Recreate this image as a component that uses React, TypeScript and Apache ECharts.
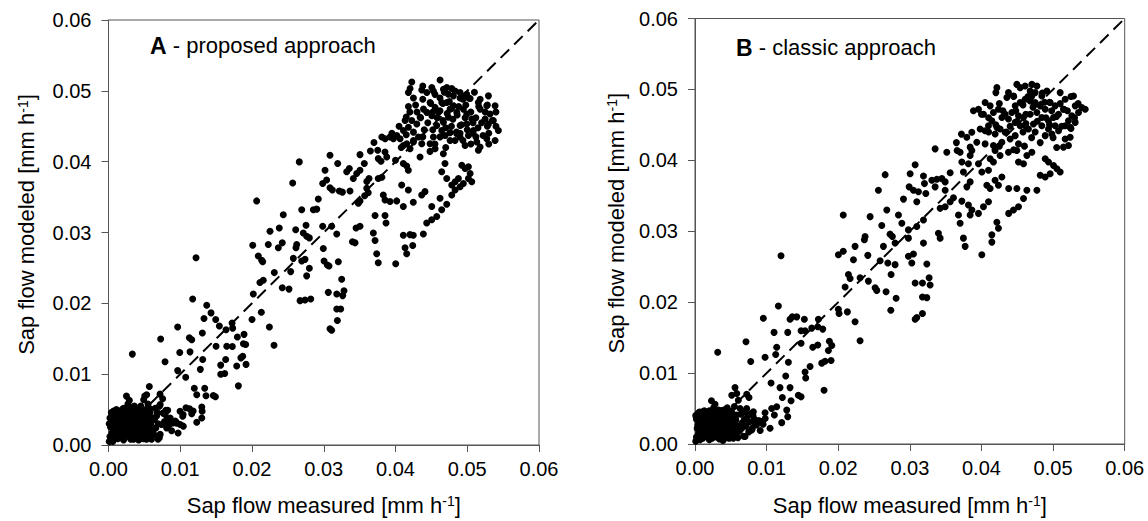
import React, { useEffect, useRef } from "react";
import * as echarts from "echarts";

const FONT = "'Liberation Sans', Arial, Helvetica, sans-serif";

// ---- Panel A (proposed approach) ----
const aBlob: number[][] = [
  [0.0002,0.0012],[0.0003,0.0025],[0.0002,0.0038],[0.0004,0.0046],[0.0008,0.0009],[0.0009,0.0019],[0.0010,0.0031],[0.0008,0.0042],[0.0011,0.0050],[0.0015,0.0014],[0.0016,0.0024],[0.0014,0.0036],[0.0017,0.0045],[0.0021,0.0007],[0.0022,0.0018],[0.0023,0.0029],[0.0021,0.0040],[0.0024,0.0049],[0.0028,0.0012],[0.0029,0.0023],[0.0030,0.0035],[0.0028,0.0045],[0.0025,0.0069],[0.0027,0.0058],[0.0033,0.0053],[0.0035,0.0008],[0.0036,0.0017],[0.0037,0.0028],[0.0035,0.0040],[0.0038,0.0048],[0.0042,0.0013],[0.0043,0.0023],[0.0044,0.0034],[0.0042,0.0044],[0.0045,0.0055],[0.0049,0.0009],[0.0050,0.0019],[0.0051,0.0029],[0.0049,0.0040],[0.0052,0.0050],[0.0056,0.0014],[0.0057,0.0024],[0.0055,0.0035],[0.0058,0.0046],[0.0006,0.0005],[0.0012,0.0027],[0.0019,0.0033],[0.0032,0.0030],[0.0046,0.0026],[0.0040,0.0009],
  [0.0005,0.0017],[0.0006,0.0033],[0.0005,0.0040],[0.0013,0.0009],[0.0012,0.0043],[0.0018,0.0019],[0.0019,0.0050],[0.0025,0.0024],[0.0026,0.0036],[0.0031,0.0017],[0.0033,0.0043],[0.0039,0.0022],[0.0040,0.0035],[0.0046,0.0016],[0.0047,0.0047],[0.0053,0.0023],[0.0054,0.0041],[0.0059,0.0019],[0.0001,0.0030],[0.0001,0.0005],[0.0030,0.0050],[0.0036,0.0055],[0.0055,0.0058],[0.0049,0.0064],[0.0029,0.0063],[0.0008,0.0024],[0.0015,0.0040],[0.0027,0.0017],[0.0042,0.0039],[0.0051,0.0035],
  [0.0004,0.0008],[0.0007,0.0013],[0.0007,0.0021],[0.0003,0.0030],[0.0011,0.0016],[0.0010,0.0036],[0.0013,0.0031],[0.0016,0.0019],[0.0017,0.0029],[0.0019,0.0011],[0.0020,0.0024],[0.0020,0.0037],[0.0022,0.0044],[0.0024,0.0013],[0.0026,0.0030],[0.0027,0.0041],[0.0031,0.0008],[0.0031,0.0039],[0.0033,0.0024],[0.0034,0.0012],[0.0034,0.0034],[0.0038,0.0013],[0.0038,0.0031],[0.0039,0.0042],[0.0041,0.0018],[0.0041,0.0028],[0.0044,0.0010],[0.0045,0.0020],[0.0045,0.0043],[0.0047,0.0032],[0.0048,0.0023],[0.0050,0.0045],[0.0053,0.0012],[0.0053,0.0030],[0.0056,0.0040],[0.0058,0.0010],[0.0040,0.0051],[0.0007,0.0048],[0.0014,0.0047],[0.0021,0.0052]
];
const aTail: number[][] = [
  [0.0062,0.0020],[0.0065,0.0052],[0.0067,0.0041],[0.0069,0.0030],[0.0069,0.0008],[0.0072,0.0057],[0.0074,0.0029],[0.0076,0.0045],[0.0079,0.0043],[0.0081,0.0024],[0.0083,0.0036],[0.0086,0.0038],[0.0088,0.0020],[0.0090,0.0031],[0.0093,0.0034],[0.0097,0.0017],[0.0100,0.0029],[0.0060,0.0008],[0.0063,0.0015],[0.0053,0.0008],[0.0042,0.0007],[0.0059,0.0029],[0.0064,0.0036],[0.0095,0.0031],[0.0104,0.0043],
  [0.0061,0.0038],[0.0066,0.0024],[0.0078,0.0033],[0.0085,0.0029],[0.0072,0.0015],[0.0080,0.0049],[0.0068,0.0046],[0.0057,0.0052]
];
const aLow: number[][] = [
  [0.00332,0.01283],[0.00727,0.01497],[0.00964,0.01665],[0.01173,0.0206],[0.01369,0.01973],[0.01331,0.01786],[0.01429,0.01865],[0.01494,0.01772],[0.01545,0.01679],[0.01638,0.01627],[0.01722,0.01721],[0.0173,0.0165],[0.02,0.01772],[0.0213,0.01875],[0.02242,0.01665],[0.02307,0.01408],[0.0267,0.02038],[0.02739,0.02047],[0.02819,0.02061],[0.01127,0.01515],[0.0116,0.01487],[0.01308,0.01581],[0.00993,0.01305],[0.01136,0.01315],[0.01313,0.01208],[0.01499,0.01394],[0.01648,0.01394],[0.01726,0.0139],[0.01889,0.01562],[0.01912,0.01418],[0.0188,0.0143],[0.01796,0.01525],[0.01871,0.01254],[0.01845,0.0123],[0.01633,0.01208],[0.01564,0.01128],[0.01564,0.00998],[0.0162,0.0101],[0.01787,0.01115],[0.01917,0.01138],[0.0181,0.00835],[0.00788,0.01175],[0.00964,0.0105],[0.01076,0.00956],[0.0128,0.01068],[0.00569,0.00826],[0.00532,0.00709],[0.00505,0.0069],[0.00718,0.00718],[0.00755,0.00653],[0.00709,0.00546],[0.00825,0.0049],[0.01196,0.00802],[0.01341,0.00802],[0.0123,0.00709],[0.01359,0.00695],[0.01461,0.007],[0.0149,0.0068],[0.0108,0.00525],[0.0113,0.0051],[0.0118,0.0048],[0.0116,0.0044],[0.013,0.00536],[0.01305,0.00476],[0.013,0.00382],[0.0123,0.00322],[0.00997,0.00476],[0.01034,0.00406],[0.01043,0.00266],[0.0095,0.00312],[0.00709,0.00102],[0.0043,0.0008],[0.0122,0.02644]
];
const aMid: number[][] = [
  [0.03087,0.0409],[0.02659,0.03997],[0.02567,0.03698],[0.02065,0.03446],[0.03194,0.03973],[0.03505,0.04099],[0.03752,0.0416],[0.03854,0.04137],[0.03878,0.04067],[0.0376,0.04043],[0.03798,0.04006],[0.04,0.0402],[0.04109,0.03973],[0.04156,0.0394],[0.04179,0.03879],[0.04342,0.04067],[0.04481,0.04145],[0.04667,0.04113],[0.04644,0.03857],[0.04714,0.03763],[0.0469,0.03973],[0.03018,0.03879],[0.02985,0.03693],[0.0304,0.0374],[0.03087,0.03633],[0.0312,0.036],[0.03217,0.03586],[0.0326,0.0357],[0.0332,0.03857],[0.03356,0.03903],[0.03412,0.03763],[0.03459,0.03833],[0.03505,0.03879],[0.03565,0.03973],[0.03631,0.03763],[0.036,0.0372],[0.03366,0.03586],[0.03599,0.03623],[0.0362,0.0356],[0.0357,0.0352],[0.03505,0.03446],[0.03482,0.03414],[0.0376,0.03763],[0.0381,0.0378],[0.0383,0.0353],[0.03854,0.0346],[0.03924,0.03437],[0.04017,0.03446],[0.04109,0.03367],[0.04086,0.0367],[0.04179,0.036],[0.04248,0.03428],[0.04365,0.0353],[0.04411,0.03577],[0.04505,0.03367],[0.04621,0.03483],[0.04644,0.0332],[0.04714,0.03399],[0.04575,0.03227],[0.04505,0.0318],[0.04435,0.03134],[0.04388,0.0298],[0.04248,0.02962],[0.04202,0.0297],[0.04109,0.02962],[0.0424,0.02816],[0.04133,0.02784],[0.04156,0.027],[0.04003,0.0256],[0.03715,0.0324],[0.03854,0.0324],[0.03868,0.03134],[0.03691,0.02994],[0.03715,0.02886],[0.03738,0.027],[0.0376,0.02574],
  [0.02924,0.03474],[0.02855,0.0332],[0.02902,0.0333],[0.02693,0.0332],[0.02436,0.0325],[0.0238,0.03064],[0.02251,0.03018],[0.02609,0.0304],[0.02753,0.03102],[0.02715,0.02994],[0.02762,0.02948],[0.02799,0.02924],[0.02985,0.03088],[0.0311,0.03088],[0.03181,0.0298],[0.02994,0.02774],[0.02623,0.0283],[0.02613,0.02784],[0.02422,0.02854],[0.02367,0.02784],[0.02227,0.0283],[0.0201,0.0282],[0.02088,0.02668],[0.02135,0.02607],[0.02149,0.02588],[0.02576,0.02635],[0.02693,0.02598],[0.02739,0.02621],[0.02799,0.02495],[0.02762,0.02388],[0.03004,0.02598],[0.0305,0.02542],[0.03073,0.02528],[0.03203,0.02588],[0.02539,0.02448],[0.02311,0.02434],[0.02157,0.02327],[0.02111,0.02294],[0.02018,0.02131],[0.02422,0.0222],[0.02516,0.02201],[0.03064,0.02155],[0.03181,0.02131],[0.03264,0.02109],[0.03282,0.02178],[0.0325,0.02341],[0.03181,0.01921],[0.03236,0.01921],[0.0319,0.01758],[0.03087,0.01641],[0.0311,0.01619],[0.0345,0.03064],[0.03505,0.03088],[0.03436,0.02854],[0.034,0.0287],[0.037,0.0427],[0.0365,0.0415]
];
const aTop: number[][] = [
  [0.04227,0.05124],[0.04203,0.05032],[0.0418,0.04976],[0.0438,0.05068],[0.04366,0.05012],[0.04436,0.04976],[0.04506,0.05046],[0.04528,0.04998],[0.04621,0.05152],[0.04668,0.05022],[0.04715,0.05046],[0.04784,0.05032],[0.04831,0.04998],[0.04737,0.04952],[0.04807,0.04929],[0.049,0.04976],[0.04924,0.04906],[0.04993,0.04952],[0.0504,0.04892],[0.05155,0.04836],[0.05179,0.04742],[0.05272,0.04789],[0.05295,0.04929],[0.05388,0.04789],[0.05318,0.04673],[0.05249,0.04603],[0.05295,0.04533],[0.05364,0.0458],[0.05434,0.0444],[0.05388,0.043],[0.05272,0.04323],[0.05179,0.04207],[0.05155,0.0416],[0.05133,0.04277],[0.05016,0.0437],[0.0497,0.04229],[0.049,0.04347],[0.04854,0.04393],[0.05086,0.0444],[0.04993,0.04533],[0.049,0.0451],[0.05063,0.04603],
  [0.04482,0.04836],[0.04552,0.04766],[0.04598,0.04696],[0.04506,0.04649],[0.04436,0.04696],[0.0439,0.04742],[0.04343,0.04626],[0.04297,0.04533],[0.04227,0.0458],[0.0418,0.04486],[0.04134,0.0458],[0.0411,0.0444],[0.04064,0.04323],[0.04018,0.0437],[0.03971,0.04323],[0.03924,0.04347],[0.03855,0.04323],[0.03809,0.04347],[0.0425,0.04417],[0.0432,0.04347],[0.04366,0.04253],[0.0425,0.04277],[0.04203,0.04183],[0.04157,0.04253],[0.0411,0.04229],[0.04575,0.0451],[0.04668,0.04556],[0.04737,0.04626],[0.04761,0.04742],[0.04645,0.04836],[0.04715,0.04836],[0.04807,0.04789],[0.04854,0.04696],[0.04946,0.04742],[0.04993,0.04673],[0.04645,0.0444],[0.04691,0.0437],[0.04761,0.043],[0.04528,0.04347],[0.04482,0.04253],[0.04552,0.04183],
  [0.0462,0.049],[0.0475,0.0485],[0.0488,0.0478],[0.0498,0.048],[0.0505,0.047],[0.0512,0.0462],[0.048,0.046],[0.0492,0.0452],[0.05,0.0445],[0.047,0.0448],[0.0458,0.0462],[0.0445,0.0455],[0.044,0.0445],[0.043,0.047],[0.042,0.047],[0.0415,0.0463],[0.0525,0.047],[0.051,0.0498],[0.0455,0.0425],[0.047,0.042],[0.0483,0.043],[0.0505,0.0425],[0.052,0.0455],[0.053,0.044],
  [0.0455,0.0495],[0.0468,0.0498],[0.0478,0.0475],[0.0494,0.0488],[0.0516,0.0478],[0.0508,0.0455],[0.0485,0.0442],[0.0462,0.0472],[0.0449,0.0482],[0.0425,0.0490],[0.0435,0.0462],[0.0462,0.0435],[0.0476,0.0441],[0.0512,0.0435],[0.0497,0.0462],[0.0535,0.0458],
  [0.0428,0.0480],[0.0438,0.0488],[0.0452,0.0470],[0.0466,0.0482],[0.0472,0.0468],[0.0486,0.0466],[0.0490,0.0490],[0.0502,0.0490],[0.0518,0.0488],[0.0528,0.0480],[0.0515,0.0448],[0.0528,0.0450],[0.0540,0.0450],[0.0522,0.0437],[0.0508,0.0440],[0.0490,0.0440],[0.0478,0.0450],[0.0466,0.0458],[0.0452,0.0445],[0.0438,0.0435],[0.0425,0.0430],[0.0415,0.0438],[0.0405,0.0450],[0.0395,0.0440],[0.0418,0.0478],[0.0408,0.0420],[0.0494,0.0430],[0.0530,0.0425],[0.0540,0.0470],
  [0.04784,0.0367],[0.04831,0.03717],[0.04877,0.03763],[0.04924,0.0395],[0.0497,0.03903],[0.05016,0.03927],[0.0504,0.03833],[0.05016,0.03763],[0.05063,0.03717],[0.04946,0.03693],[0.049,0.03647],[0.04831,0.036],[0.04784,0.0353]
];

// ---- Panel B (classic approach) ----
const bBlob: number[][] = [
  [0.0002,0.0010],[0.0003,0.0022],[0.0002,0.0035],[0.0004,0.0043],[0.0007,0.0006],[0.0009,0.0016],[0.0008,0.0028],[0.0010,0.0039],[0.0013,0.0047],[0.0014,0.0011],[0.0015,0.0022],[0.0016,0.0033],[0.0018,0.0042],[0.0020,0.0006],[0.0021,0.0017],[0.0022,0.0027],[0.0023,0.0038],[0.0023,0.0061],[0.0026,0.0051],[0.0027,0.0012],[0.0028,0.0022],[0.0029,0.0033],[0.0030,0.0044],[0.0034,0.0007],[0.0035,0.0017],[0.0036,0.0028],[0.0034,0.0039],[0.0037,0.0047],[0.0041,0.0012],[0.0042,0.0022],[0.0043,0.0033],[0.0041,0.0043],[0.0048,0.0008],[0.0049,0.0018],[0.0050,0.0028],[0.0048,0.0038],[0.0051,0.0046],[0.0055,0.0013],[0.0056,0.0023],[0.0057,0.0034],[0.0012,0.0032],[0.0018,0.0026],[0.0031,0.0027],[0.0044,0.0027],[0.0039,0.0005],[0.0006,0.0045],
  [0.0005,0.0015],[0.0006,0.0030],[0.0001,0.0040],[0.0011,0.0008],[0.0012,0.0020],[0.0013,0.0040],[0.0017,0.0015],[0.0019,0.0036],[0.0020,0.0047],[0.0025,0.0018],[0.0025,0.0030],[0.0026,0.0043],[0.0032,0.0013],[0.0032,0.0022],[0.0033,0.0036],[0.0033,0.0048],[0.0038,0.0020],[0.0039,0.0033],[0.0040,0.0048],[0.0045,0.0014],[0.0046,0.0040],[0.0052,0.0022],[0.0053,0.0035],[0.0001,0.0004],[0.0028,0.0056],[0.0045,0.0051],
  [0.0004,0.0007],[0.0006,0.0020],[0.0004,0.0027],[0.0007,0.0038],[0.0010,0.0012],[0.0011,0.0025],[0.0014,0.0017],[0.0014,0.0028],[0.0016,0.0044],[0.0018,0.0010],[0.0019,0.0021],[0.0020,0.0031],[0.0021,0.0041],[0.0024,0.0008],[0.0024,0.0034],[0.0027,0.0026],[0.0028,0.0039],[0.0030,0.0010],[0.0031,0.0019],[0.0031,0.0041],[0.0034,0.0031],[0.0037,0.0010],[0.0037,0.0024],[0.0039,0.0041],[0.0040,0.0016],[0.0042,0.0030],[0.0044,0.0020],[0.0044,0.0037],[0.0046,0.0009],[0.0047,0.0031],[0.0049,0.0042],[0.0051,0.0014],[0.0053,0.0029],[0.0055,0.0041],[0.0058,0.0017],[0.0009,0.0045],[0.0016,0.0037]
];
const bTail: number[][] = [
  [0.0062,0.0018],[0.0064,0.0042],[0.0066,0.0030],[0.0068,0.0011],[0.0071,0.0025],[0.0073,0.0038],[0.0076,0.0031],[0.0080,0.0022],[0.0083,0.0035],[0.0086,0.0027],[0.0089,0.0033],[0.0091,0.0019],[0.0095,0.0028],[0.0060,0.0009],[0.0059,0.0026],[0.0063,0.0050],[0.0070,0.0046],[0.0081,0.0040],[0.0098,0.0036],
  [0.0058,0.0041],[0.0065,0.0022],[0.0069,0.0035],[0.0075,0.0017],[0.0078,0.0043],[0.0085,0.0031],[0.0055,0.0053]
];
const bLow: number[][] = [
  [0.00317,0.01294],[0.00712,0.01443],[0.00954,0.01774],[0.01164,0.01947],[0.00778,0.01164],[0.00978,0.01224],[0.01104,0.01574],[0.01141,0.01364],[0.01127,0.01262],[0.01295,0.01574],[0.01304,0.01154],[0.01327,0.0176],[0.01359,0.01793],[0.01421,0.01793],[0.01527,0.0176],[0.01481,0.01597],[0.01537,0.01597],[0.0163,0.01634],[0.01714,0.01653],[0.01784,0.0162],[0.01723,0.0176],[0.01481,0.0142],[0.01644,0.01364],[0.01714,0.01397],[0.01876,0.01448],[0.0191,0.01388],[0.01862,0.01318],[0.02002,0.019],[0.02012,0.0184],[0.02128,0.01863],[0.02235,0.01723],[0.02305,0.01457],[0.02734,0.01886],[0.02808,0.02054],[0.0177,0.0114],[0.01816,0.01168],[0.019,0.01177],[0.01607,0.01094],[0.01537,0.01014],[0.01546,0.0093],[0.01267,0.00958],[0.01062,0.0086],[0.01187,0.00795],[0.01327,0.00795],[0.0122,0.00655],[0.01341,0.00609],[0.01443,0.00688],[0.01481,0.00665],[0.01802,0.00758],[0.00559,0.00795],[0.00513,0.00688],[0.00583,0.00711],[0.00722,0.00702],[0.00754,0.00655],[0.00605,0.00618],[0.00722,0.00501],[0.00815,0.00455],[0.00978,0.00441],[0.01071,0.00501],[0.01141,0.00525],[0.01108,0.00408],[0.01281,0.00478],[0.01295,0.00385],[0.01211,0.00301],[0.01048,0.00221],[0.00932,0.00315],[0.00838,0.00291],[0.00792,0.00199],[0.00699,0.00105],[0.00535,0.00081],[0.00409,0.00075],[0.01201,0.02655]
];
const bMid: number[][] = [
  [0.0207,0.03229],[0.02655,0.03798],[0.02561,0.03579],[0.03074,0.03938],[0.03004,0.03812],[0.0319,0.0378],[0.03204,0.03672],[0.0299,0.03626],[0.0305,0.03579],[0.0312,0.03556],[0.03223,0.03532],[0.03307,0.03719],[0.03377,0.03733],[0.03447,0.03742],[0.03493,0.03696],[0.03353,0.03626],[0.03493,0.03579],[0.03353,0.04162],[0.03516,0.04115],[0.03563,0.03826],[0.0366,0.04139],[0.03702,0.04115],[0.03726,0.03976],[0.03748,0.03836],[0.03818,0.03952],[0.03842,0.04068],[0.03866,0.04139],[0.03958,0.03952],[0.04005,0.03836],[0.04098,0.0386],[0.04121,0.04022],[0.04167,0.03976],[0.0419,0.04139],[0.0426,0.04068],[0.04377,0.04115],[0.04494,0.04139],[0.04517,0.03976],[0.04587,0.03952],[0.04634,0.04068],[0.04704,0.04115],[0.03842,0.03696],[0.03796,0.03626],[0.03609,0.03472],[0.03563,0.03416],[0.03493,0.03346],[0.03423,0.03323],[0.03726,0.03425],[0.03818,0.03369],[0.03866,0.03299],[0.03842,0.03229],[0.03958,0.03252],[0.04028,0.03346],[0.04098,0.03416],[0.04121,0.03602],[0.0419,0.03719],[0.04237,0.03649],[0.04075,0.03649],[0.03679,0.03229],[0.03702,0.03113],[0.03748,0.02903],[0.03772,0.02787],[0.04005,0.02669],[0.04145,0.02949],[0.04145,0.02847],[0.04215,0.03127],[0.04237,0.03043],[0.0438,0.03252],[0.04447,0.03299],[0.04517,0.03346],[0.04587,0.03463],[0.04634,0.03579],[0.04494,0.03602],[0.0438,0.03602],[0.04285,0.03766],[0.03399,0.02973],[0.03423,0.02903],
  [0.02445,0.03206],[0.02841,0.03229],[0.02678,0.03299],[0.02911,0.03453],[0.03097,0.03416],[0.02888,0.03113],[0.02608,0.0308],[0.0319,0.03159],[0.03097,0.03066],[0.0298,0.03019],[0.02724,0.02959],[0.02756,0.02927],[0.02794,0.02833],[0.02631,0.02787],[0.0298,0.02903],[0.0319,0.02833],[0.02375,0.02927],[0.02365,0.02879],[0.02235,0.02787],[0.02002,0.02669],[0.0207,0.02717],[0.02212,0.02599],[0.02413,0.0266],[0.02585,0.02585],[0.02692,0.02553],[0.02794,0.02529],[0.0298,0.02647],[0.0305,0.02679],[0.03027,0.02553],[0.03237,0.02539],[0.02738,0.02389],[0.02142,0.02389],[0.02166,0.02334],[0.02305,0.02343],[0.02421,0.02297],[0.02515,0.02203],[0.02538,0.02166],[0.02668,0.02147],[0.02096,0.02213],[0.03074,0.0227],[0.03176,0.0227],[0.03269,0.02343],[0.03283,0.02241],[0.03176,0.02073],[0.03237,0.02064],[0.03176,0.01839],[0.03097,0.01784],[0.03074,0.0176],[0.0365,0.0425],[0.0372,0.0437]
];
const bTop: number[][] = [
  [0.04215,0.05025],[0.04201,0.04955],[0.04494,0.05071],[0.0454,0.05025],[0.04377,0.04955],[0.04355,0.04885],[0.04447,0.04908],[0.0461,0.05048],[0.04704,0.05071],[0.04774,0.05048],[0.0468,0.04978],[0.0475,0.04955],[0.04843,0.04908],[0.04913,0.04978],[0.05099,0.04955],[0.05169,0.04861],[0.05285,0.04908],[0.05309,0.04768],[0.05402,0.04745],[0.05448,0.04721],[0.05355,0.04675],[0.05262,0.04628],[0.05215,0.04558],[0.05169,0.04488],[0.05239,0.04465],[0.05309,0.04535],
  [0.05145,0.04721],[0.05076,0.04651],[0.05006,0.04605],[0.05029,0.04768],[0.04959,0.04815],[0.0489,0.04721],[0.0482,0.04768],[0.0475,0.04815],[0.0468,0.04838],[0.0461,0.04861],[0.0454,0.04815],[0.04471,0.04768],[0.04424,0.04675],[0.04517,0.04628],[0.04587,0.04605],[0.0468,0.04651],[0.04774,0.04675],[0.04843,0.04605],[0.04936,0.04558],[0.05029,0.04488],[0.05076,0.04418],[0.04983,0.04372],[0.04936,0.04442],[0.0489,0.04348],[0.04843,0.04488],[0.04726,0.04512],[0.04656,0.04442],[0.0461,0.04488],[0.0454,0.04488],[0.04471,0.04535],[0.04377,0.04582],[0.04331,0.04651],[0.04285,0.04605],[0.04237,0.04721],[0.04167,0.04675],[0.04121,0.04768],[0.04051,0.04815],[0.04028,0.04651],[0.03958,0.04721],[0.03888,0.04698],[0.04098,0.04488],[0.04145,0.04558],[0.04215,0.04465],[0.04261,0.04442],[0.04191,0.04372],[0.04051,0.04418],[0.03982,0.04442],[0.03865,0.04395],[0.03795,0.04325],[0.04331,0.04395],[0.04401,0.04302],[0.04471,0.04348],[0.04517,0.04232],[0.04285,0.04256],[0.04167,0.04208],[0.04051,0.04232],[0.03935,0.04256],[0.03842,0.04186],[0.05169,0.04302],[0.05239,0.04325],[0.05215,0.04208],[0.05145,0.04186],
  [0.0465,0.0490],[0.0472,0.0475],[0.0488,0.0482],[0.0498,0.0470],[0.0510,0.0480],[0.0520,0.0470],[0.0495,0.0450],[0.0478,0.0455],[0.0462,0.0465],[0.0450,0.0455],[0.0440,0.0448],[0.0425,0.0480],[0.0410,0.0460],[0.0500,0.0432],[0.0525,0.0445],[0.0458,0.0440],[0.0470,0.0432],[0.0482,0.0425],
  [0.0430,0.0470],[0.0445,0.0490],[0.0458,0.0478],[0.0470,0.0490],[0.0485,0.0495],[0.0495,0.0482],[0.0505,0.0462],[0.0515,0.0472],[0.0530,0.0460],[0.0535,0.0480],[0.0525,0.0490],[0.0490,0.0460],[0.0475,0.0440],[0.0462,0.0452],[0.0448,0.0470],[0.0435,0.0440],[0.0420,0.0450],[0.0410,0.0440],[0.0400,0.0465],[0.0512,0.0448],[0.0505,0.0418],[0.0460,0.0420],[0.0445,0.0415],[0.0425,0.0420],
  [0.0489,0.04022],[0.04936,0.03976],[0.05006,0.03928],[0.05053,0.03882],[0.05099,0.03836],[0.04959,0.03812],[0.0489,0.03766],[0.0482,0.0379],[0.04774,0.03579]
];

const axisTicks = [0, 0.01, 0.02, 0.03, 0.04, 0.05, 0.06];
const identityLine: number[][] = [[0, 0], [0.06, 0.06]];
const titleA = ["A", " - proposed approach"];
const titleB = ["B", " - classic approach"];
const xTitle = "Sap flow measured [mm h{sup|-1}]";
const yTitle = "Sap flow modeled [mm h{sup|-1}]";

const axisColor = "#555";

function makeAxis(gridIndex: number, isX: boolean, nameGap: number) {
  return {
    gridIndex,
    type: "value",
    min: axisTicks[0],
    max: axisTicks[axisTicks.length - 1],
    interval: 0.01,
    name: isX ? xTitle : yTitle,
    nameLocation: "middle",
    nameGap,
    nameTextStyle: {
      fontFamily: FONT,
      fontSize: 22,
      color: "#000",
      padding: isX ? 0 : [0, 0, 0, 16],
      rich: { sup: { fontFamily: FONT, fontSize: 14, color: "#000", verticalAlign: "top", lineHeight: 14 } },
    },
    axisLine: { show: true, onZero: false, lineStyle: { color: axisColor, width: 1 } },
    axisTick: { show: true, inside: false, length: 7, lineStyle: { color: axisColor, width: 1 } },
    splitLine: { show: false },
    axisLabel: {
      fontFamily: FONT,
      fontSize: 20,
      color: "#000",
      margin: isX ? 14 : 17,
      formatter: (v: number) => v.toFixed(2),
    },
  };
}

export default function App() {
  const ref = useRef<HTMLDivElement>(null);
  useEffect(() => {
    document.body.style.margin = "0";
    if (!ref.current) return;
    const chart = echarts.init(ref.current, undefined, { renderer: "svg" });
    const aData = [...aBlob, ...aTail, ...aLow, ...aMid, ...aTop];
    const bData = [...bBlob, ...bTail, ...bLow, ...bMid, ...bTop];
    const scatterStyle = { symbolSize: 7, itemStyle: { color: "#000", opacity: 1 }, z: 3, silent: true };
    const lineStyle = {
      type: "line",
      showSymbol: false,
      symbol: "none",
      lineStyle: { color: "#000", width: 2, type: [12, 7] },
      z: 2,
      silent: true,
    };
    const titleRich = {
      b: { fontFamily: FONT, fontSize: 23, fontWeight: "bold", fill: "#000" },
      n: { fontFamily: FONT, fontSize: 22, fill: "#000" },
    };
    chart.setOption({
      animation: false,
      grid: [
        { left: 108.5, top: 20, width: 430.5, height: 429, show: true, borderColor: axisColor, borderWidth: 1 },
        { left: 695, top: 18.5, width: 429.7, height: 429, show: true, borderColor: axisColor, borderWidth: 1 },
      ],
      xAxis: [makeAxis(0, true, 49), makeAxis(1, true, 50)],
      yAxis: [makeAxis(0, false, 71), makeAxis(1, false, 68)],
      graphic: [
        {
          type: "text",
          left: 150,
          top: 34,
          style: { text: `{b|${titleA[0]}}{n|${titleA[1]}}`, rich: titleRich },
        },
        {
          type: "text",
          left: 736,
          top: 36,
          style: { text: `{b|${titleB[0]}}{n|${titleB[1]}}`, rich: titleRich },
        },
      ],
      series: [
        { ...lineStyle, xAxisIndex: 0, yAxisIndex: 0, data: identityLine },
        { type: "scatter", xAxisIndex: 0, yAxisIndex: 0, data: aData, ...scatterStyle },
        { ...lineStyle, xAxisIndex: 1, yAxisIndex: 1, data: identityLine },
        { type: "scatter", xAxisIndex: 1, yAxisIndex: 1, data: bData, ...scatterStyle },
      ],
    });
    return () => chart.dispose();
  }, []);
  return <div ref={ref} style={{ width: 1148, height: 521 }} />;
}
